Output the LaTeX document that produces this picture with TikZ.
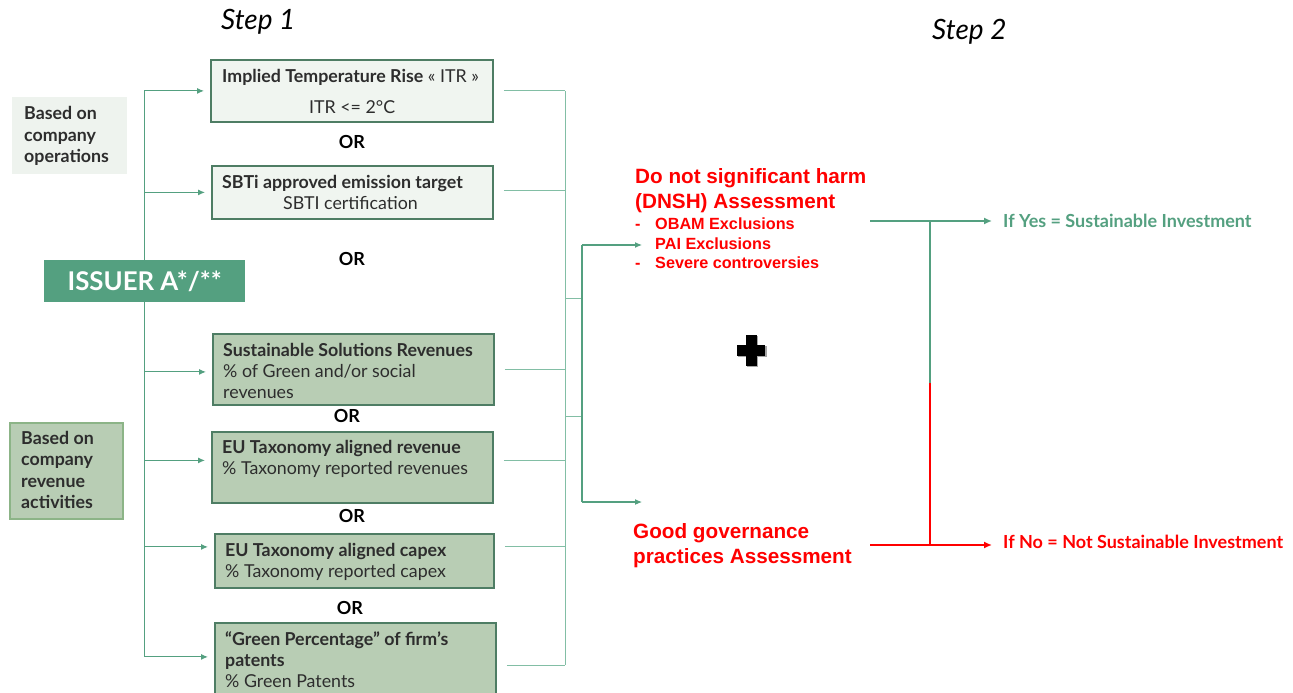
\documentclass[tikz,border=0pt]{standalone}
\usepackage{fontspec}
\setmainfont{Lato}
\newfontfamily\arialfont{Liberation Sans}
\usetikzlibrary{arrows.meta,calc}
\definecolor{gr}{RGB}{84,160,128}
\definecolor{lgr}{RGB}{130,190,165}
\definecolor{bord}{RGB}{78,125,100}
\definecolor{lfill}{RGB}{240,245,240}
\definecolor{dfill}{RGB}{184,205,180}
\definecolor{opsfill}{RGB}{238,243,238}
\definecolor{revbord}{RGB}{140,180,135}
\definecolor{txt}{RGB}{45,45,45}
\definecolor{red}{RGB}{255,0,0}
\tikzset{
  lightbox/.style={draw=bord,line width=1.8pt,fill=lfill,inner sep=0,anchor=north west},
  darkbox/.style={draw=bord,line width=1.8pt,fill=dfill,inner sep=0,anchor=north west},
  tx/.style={anchor=base west,inner sep=0,text=txt,font=\fontsize{17.8}{20}\selectfont},
  tb/.style={tx,font=\fontsize{17.8}{20}\selectfont\bfseries},
  ortext/.style={anchor=base,inner sep=0,text=black,font=\fontsize{18}{20}\selectfont\bfseries},
  redt/.style={anchor=base west,inner sep=0,text=red,font=\arialfont\fontsize{20.7}{23}\selectfont\bfseries},
  redb/.style={anchor=base west,inner sep=0,text=red,font=\arialfont\fontsize{16.2}{18}\selectfont\bfseries},
  garrow/.style={draw=gr,line width=1.1pt,-{Latex[length=7pt,width=6pt]}},
  gline/.style={draw=gr,line width=1.1pt},
  lline/.style={draw=lgr,line width=1pt},
  rarrow/.style={draw=red,line width=1.5pt,-{Latex[length=8pt,width=7pt]}},
  yarrow/.style={draw=gr,line width=1.5pt,-{Latex[length=8pt,width=7pt]}},
}
\begin{document}
\begin{tikzpicture}[x=1pt,y=-1pt]
\useasboundingbox (0,0) rectangle (1293,693);
\fill[white] (0,0) rectangle (1293,693);

% step labels
\node[anchor=base west,inner sep=0,font=\fontsize{28}{30}\selectfont\itshape] (s1) at (221,30) {Step 1};
\node[anchor=base west,inner sep=0,font=\fontsize{28}{30}\selectfont\itshape] (s2) at (932,40) {Step 2};

% left labels
\node[fill=opsfill,anchor=north west,minimum width=115pt,minimum height=77pt,inner sep=0] (ops) at (12,97) {};
\node[tb] (opst) at (24,119) {Based on};
\node[tb] at (24,141) {company};
\node[tb] at (24,162) {operations};

\node[draw=revbord,line width=1.5pt,fill=dfill,anchor=north west,minimum width=113pt,minimum height=96pt,inner sep=0] (rev) at (9,422) {};
\node[tb] at (21,444) {Based on};
\node[tb] at (21,465) {company};
\node[tb] at (21,487) {revenue};
\node[tb] at (21,508) {activities};

% boxes
\node[lightbox,minimum width=282pt,minimum height=62pt] (itr) at (210,59) {};
\node[tx] at (222,82) {\textbf{Implied Temperature Rise} « ITR »};
\node[tx] at (309,113) {ITR <= 2°C};

\node[ortext] (or1) at (352,148.7) {OR};

\node[lightbox,minimum width=281pt,minimum height=53pt] (sbti) at (211,165) {};
\node[tb] at (222,188) {SBTi approved emission target};
\node[tx] at (283,209) {SBTI certification};

\node[ortext] (or2) at (352,265) {OR};

\node[darkbox,minimum width=281pt,minimum height=71pt] (sust) at (212,333) {};
\node[tb] at (223,356) {Sustainable Solutions Revenues};
\node[tx] at (223,377) {\% of Green and/or social};
\node[tx] at (223,398) {revenues};

\node[ortext] (or3) at (347,422) {OR};

\node[darkbox,minimum width=281pt,minimum height=71pt] (eurev) at (211,431) {};
\node[tb] at (222,453) {EU Taxonomy aligned revenue};
\node[tx] at (222,474) {\% Taxonomy reported revenues};

\node[ortext] (or4) at (352,522) {OR};

\node[darkbox,minimum width=279pt,minimum height=54pt] (capex) at (214,533) {};
\node[tb] at (225,556) {EU Taxonomy aligned capex};
\node[tx] at (225,577) {\% Taxonomy reported capex};

\node[ortext] (or5) at (350,614) {OR};

\node[darkbox,minimum width=281pt,minimum height=80pt] (green) at (214,622) {};
\node[tb] at (225,645) {“Green Percentage\char"22{} of firm’s};
\node[tb] at (225,666) {patents};
\node[tx] at (225,687) {\% Green Patents};

% trunk
\draw[gline] (144.5,91) -- (144.5,656);
\node[fill=gr,anchor=north west,minimum width=201pt,minimum height=42pt,inner sep=0,text=white,font=\fontsize{25.8}{28}\selectfont\bfseries] (issuer) at (44,260) {ISSUER A*/**};

\draw[garrow,shorten >=6pt] (issuer.north -| 144.5,0) |- (itr.west);
\draw[garrow,shorten >=6pt] (issuer.north -| 144.5,0) |- (sbti.west);
\draw[garrow,shorten >=6pt] (issuer.south -| 144.5,0) |- ([yshift=-2.5pt]sust.west);
\draw[garrow,shorten >=6pt] (issuer.south -| 144.5,0) |- ([yshift=7pt]eurev.west);
\draw[garrow,shorten >=6pt] (issuer.south -| 144.5,0) |- ([yshift=14pt]capex.west);
\draw[garrow,shorten >=6pt] (issuer.south -| 144.5,0) |- ([yshift=6pt]green.west);

% right collector
\coordinate (rv) at (565,0);
\draw[lline] (565,91) -- (565,665);
\draw[lline,shorten <=10pt] (itr.east) -- (itr.east -| rv);
\draw[lline,shorten <=10pt] ([yshift=1.5pt]sbti.east) -- ([yshift=1.5pt]sbti.east -| rv);
\draw[lline,shorten <=10pt] (sust.east) -- (sust.east -| rv);
\draw[lline,shorten <=10pt] ([yshift=7pt]eurev.east) -- ([yshift=7pt]eurev.east -| rv);
\draw[lline,shorten <=10pt] ([yshift=14pt]capex.east) -- ([yshift=14pt]capex.east -| rv);
\draw[lline,shorten <=10pt] ([yshift=-3pt]green.east) -- ([yshift=-3pt]green.east -| rv);

% branch to step 2
\coordinate (b1) at (565,298);
\coordinate (b2) at (565,416);
\coordinate (bt) at (582,245);
\coordinate (bb) at (582,502);
\coordinate (din) at (642,245);
\coordinate (gin) at (642,502);
\draw[lline] (b1) -- (b1 -| bt);
\draw[lline] (b2) -- (b2 -| bt);
\draw[gline] (bt) -- (bb);
\draw[garrow] (bt) -- (din);
\draw[garrow] (bb) -- (gin);

% DNSH
\node[redt] (dnsh) at (635,183) {Do not significant harm};
\node[redt] at (635,208) {(DNSH) Assessment};
\node[redb] at (635,229) {-};
\node[redb] at (655,229) {OBAM Exclusions};
\node[redb] at (655,249) {PAI Exclusions};
\node[redb] at (635,268) {-};
\node[redb] at (655,268) {Severe controversies};

\node[redt] (gg) at (633,538) {Good governance};
\node[redt] at (633,563) {practices Assessment};

% plus
\fill[black!35] (738,346) rectangle (767,357);
\fill[black!35] (747,336) rectangle (758,367);
\fill[black] (737,345) rectangle (765,356);
\fill[black] (746,335) rectangle (757,366);

% outcomes
\coordinate (ys) at (870,221);
\coordinate (ns) at (870,545);
\coordinate (jy) at (930,221);
\coordinate (jm) at (930,383);
\coordinate (jn) at (930,545);
\node[anchor=base west,inner sep=0,text=gr,font=\fontsize{18}{20}\selectfont\bfseries] (yes) at (1003,227) {If Yes = Sustainable Investment};
\node[anchor=base west,inner sep=0,text=red,font=\fontsize{18}{20}\selectfont\bfseries] (no) at (1003,548) {If No = Not Sustainable Investment};
\draw[yarrow,shorten >=11pt] (ys) -- (ys -| yes.west);
\draw[rarrow,shorten >=11pt] (ns) -- (ns -| no.west);
\draw[draw=gr,line width=1.5pt] (jy) -- (jm);
\draw[draw=red,line width=1.5pt] (jm) -- (jn);
\end{tikzpicture}
\end{document}
